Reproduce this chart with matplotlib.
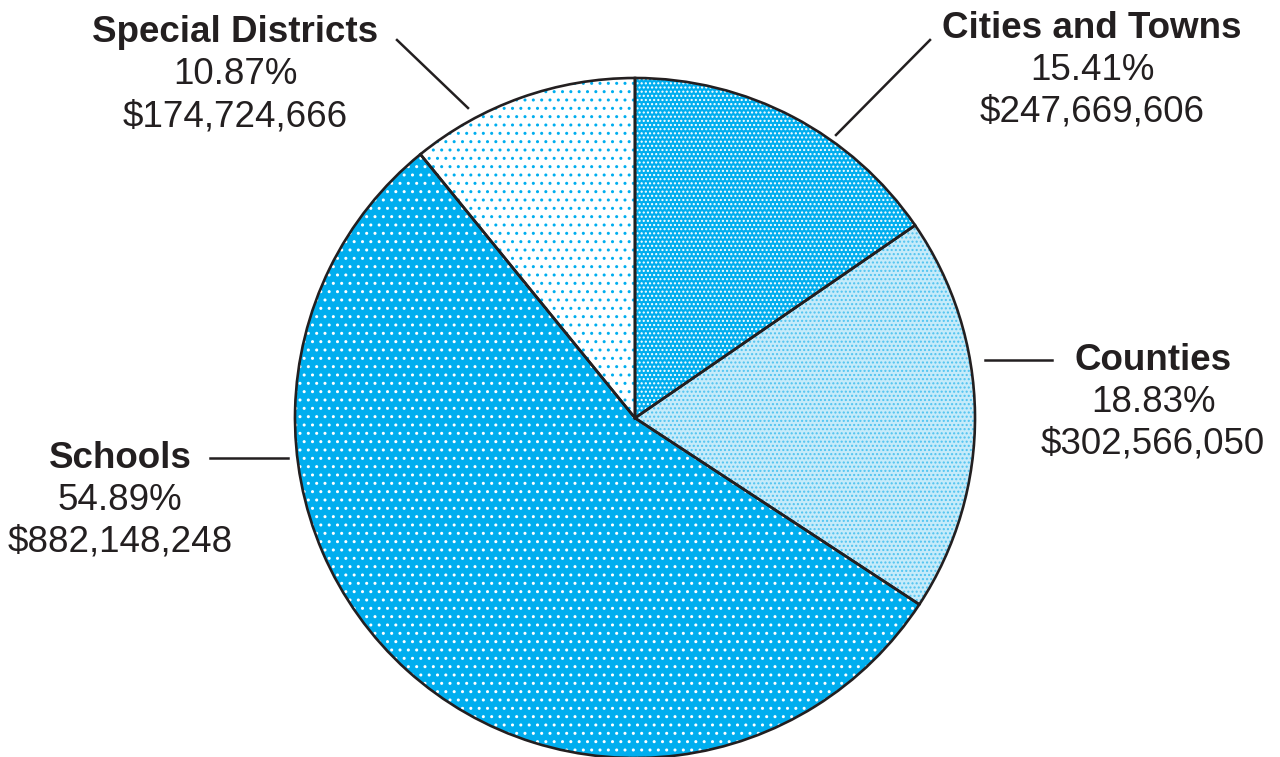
import matplotlib.pyplot as plt

plt.rcParams['font.family'] = ['Liberation Sans', 'DejaVu Sans']
plt.rcParams['hatch.linewidth'] = 1.0

# --- data ---
categories = ["Cities and Towns", "Counties", "Schools", "Special Districts"]
amounts = [247669606, 302566050, 882148248, 174724666]
pct_labels = ["15.41%", "18.83%", "54.89%", "10.87%"]
amount_labels = ["$247,669,606", "$302,566,050", "$882,148,248", "$174,724,666"]

# fill / dot pattern per slice
face_colors = ["#00aeef", "#c6ebfa", "#00aeef", "#ffffff"]
dot_colors = ["#ffffff", "#4fc3f0", "#ffffff", "#00aeef"]
hatches = ["....", "....", "..", ".."]

ink = "#231f20"
W, H = 1280, 757
center = (635, H - 418)
radius = 340

fig = plt.figure(figsize=(12.8, 7.57), dpi=100)
ax = fig.add_axes([0, 0, 1, 1])

# base fill
wedges, _ = ax.pie(amounts, colors=face_colors, startangle=90, counterclock=False,
                   center=center, radius=radius,
                   wedgeprops=dict(linewidth=0))
# dot pattern overlay
dots, _ = ax.pie(amounts, startangle=90, counterclock=False,
                 center=center, radius=radius,
                 wedgeprops=dict(fill=False, linewidth=0))
for w, c, h in zip(dots, dot_colors, hatches):
    w.set_edgecolor(c)
    w.set_hatch(h)
    w.set_linewidth(0)
# outlines
ax.pie(amounts, startangle=90, counterclock=False, center=center, radius=radius,
       wedgeprops=dict(fill=False, edgecolor=ink, linewidth=1.9))

# labels (x, y measured from the top)
label_pos = [(1092, 28), (1153, 360), (120, 458), (235, 33)]
line_gap = 42
for name, p, a, (x, y) in zip(categories, pct_labels, amount_labels, label_pos):
    ax.text(x, H - y, name, ha='center', va='center', fontsize=26.5,
            fontweight='bold', color=ink)
    ax.text(x, H - y - line_gap, p, ha='center', va='center', fontsize=26.5, color=ink)
    ax.text(x, H - y - 2 * line_gap, a, ha='center', va='center', fontsize=26.5, color=ink)

# leader lines
leaders = [((930, 40), (836, 135)), ((985, 360), (1052, 360)),
           ((210, 458), (288, 458)), ((397, 40), (468, 108))]
for (x0, y0), (x1, y1) in leaders:
    ax.plot([x0, x1], [H - y0, H - y1], color=ink, linewidth=1.8)

ax.set_xlim(0, W)
ax.set_ylim(0, H)
ax.set_aspect('equal')
ax.axis('off')

fig.savefig("out.png", dpi=100)
